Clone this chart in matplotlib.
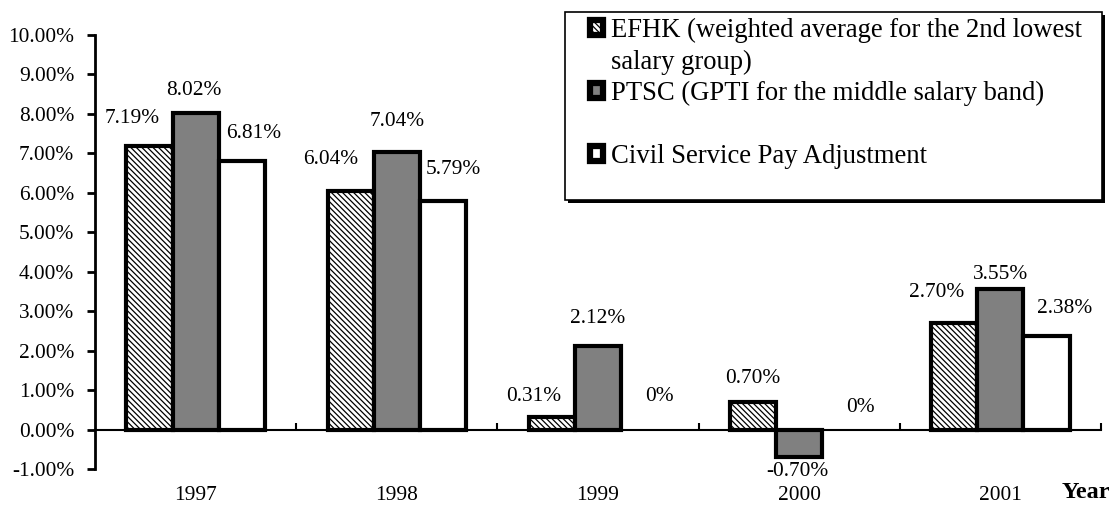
import matplotlib
matplotlib.use("Agg")
import matplotlib.pyplot as plt
import matplotlib.transforms as mtransforms
from matplotlib.patches import Patch, Rectangle
import numpy as np

years = ["1997", "1998", "1999", "2000", "2001"]
efhk = [7.19, 6.04, 0.31, 0.70, 2.70]
ptsc = [8.02, 7.04, 2.12, -0.70, 3.55]
civil = [6.81, 5.79, 0.0, 0.0, 2.38]
efhk_labels = ["7.19%", "6.04%", "0.31%", "0.70%", "2.70%"]
ptsc_labels = ["8.02%", "7.04%", "2.12%", "-0.70%", "3.55%"]
civil_labels = ["6.81%", "5.79%", "0%", "0%", "2.38%"]
yticks = [-1, 0, 1, 2, 3, 4, 5, 6, 7, 8, 9, 10]
ytick_labels = ["-1.00%", "0.00%", "1.00%", "2.00%", "3.00%", "4.00%",
                "5.00%", "6.00%", "7.00%", "8.00%", "9.00%", "10.00%"]
legend_names = ["EFHK (weighted average for the 2nd lowest", "salary group)",
                "PTSC (GPTI for the middle salary band)", " ",
                "Civil Service Pay Adjustment", " "]

plt.rcParams['font.family'] = ['Liberation Serif', 'DejaVu Serif']
plt.rcParams['hatch.linewidth'] = 0.9

W, H = 1116, 515
fig = plt.figure(figsize=(W / 100, H / 100), dpi=100)
ax = fig.add_axes([95 / W, (H - 469) / H, 1006 / W, 434 / H])

HATCH = '\\' * 6
x = np.arange(len(years))
bw = 0.229
lw = 3.0
b1 = ax.bar(x - bw, efhk, bw, facecolor='white', edgecolor='black',
            hatch=HATCH, linewidth=lw, zorder=3)
b2 = ax.bar(x, ptsc, bw, facecolor='#808080', edgecolor='black',
            linewidth=lw, zorder=3)
b3 = ax.bar(x + bw, civil, bw, facecolor='white', edgecolor='black',
            linewidth=lw, zorder=3)
for bars in (b1, b2, b3):
    for r in bars:
        if r.get_height() == 0:
            r.set_linewidth(0)

# label offsets in pixels (layout only): (dx, dy of text centre from bar end)
off1 = [(-17, 27), (-20, 32), (-18, 21), (0, 23), (-18, 31)]
off2 = [(-2, 23), (0, 30), (0, 27), (-2, -14), (0, 15)]
off3 = [(12, 27), (10, 32), (15, 33), (15, 22), (18, 27)]
k = 0.72
fs = 15.4
for i in range(len(years)):
    for xs, vals, labs, offs in ((x - bw, efhk, efhk_labels, off1),
                                 (x, ptsc, ptsc_labels, off2),
                                 (x + bw, civil, civil_labels, off3)):
        dx, dy = offs[i]
        ax.annotate(labs[i], (xs[i], vals[i]), xytext=(dx * k, dy * k),
                    textcoords='offset points', ha='center', va='center',
                    fontsize=fs)

ax.set_xlim(-0.5, 4.5)
ax.set_ylim(-1, 10)
ax.set_yticks(yticks)
ax.set_yticklabels(ytick_labels, fontsize=fs)
ax.tick_params(axis='y', direction='out', length=6, width=2, pad=9)

ax.spines['top'].set_visible(False)
ax.spines['right'].set_visible(False)
ax.spines['left'].set_linewidth(2)
ax.spines['bottom'].set_position(('data', 0))
ax.spines['bottom'].set_linewidth(1.5)
ax.set_xticks(x + 0.5)
ax.set_xticklabels([])
ax.tick_params(axis='x', direction='in', length=5, width=1.5)

trans = mtransforms.blended_transform_factory(ax.transData, ax.transAxes)
for i, yr in enumerate(years):
    ax.text(x[i], -27 / 434, yr, transform=trans, ha='center', va='center', fontsize=fs)
ax.text((1086 - 95) / 1006, -24 / 434, "Year", transform=ax.transAxes,
        ha='center', va='center', fontsize=17.5, fontweight='bold')

# legend frame with shadow
fig.add_artist(Rectangle(((565 + 3) / W, 1 - (200 + 3) / H), 537 / W, 188 / H,
                         transform=fig.transFigure, facecolor='black',
                         edgecolor='black', linewidth=0, zorder=4))
fig.add_artist(Rectangle((565 / W, 1 - 200 / H), 537 / W, 188 / H,
                         transform=fig.transFigure, facecolor='white',
                         edgecolor='black', linewidth=1.2, zorder=5))

handles = [
    Patch(facecolor='white', edgecolor='black', hatch=HATCH, linewidth=4.5),
    Patch(facecolor='none', edgecolor='none'),
    Patch(facecolor='#808080', edgecolor='black', linewidth=4.5),
    Patch(facecolor='none', edgecolor='none'),
    Patch(facecolor='white', edgecolor='black', linewidth=4.5),
    Patch(facecolor='none', edgecolor='none'),
]
leg = fig.legend(handles, legend_names, loc='upper left',
                 bbox_to_anchor=(590 / W, 1 - 18 / H),
                 borderaxespad=0, fontsize=19.2, frameon=False,
                 handlelength=0.5, handleheight=0.5, handletextpad=0.27,
                 labelspacing=0.24, borderpad=0)
leg.set_zorder(6)

fig.savefig("out.png", dpi=100)
